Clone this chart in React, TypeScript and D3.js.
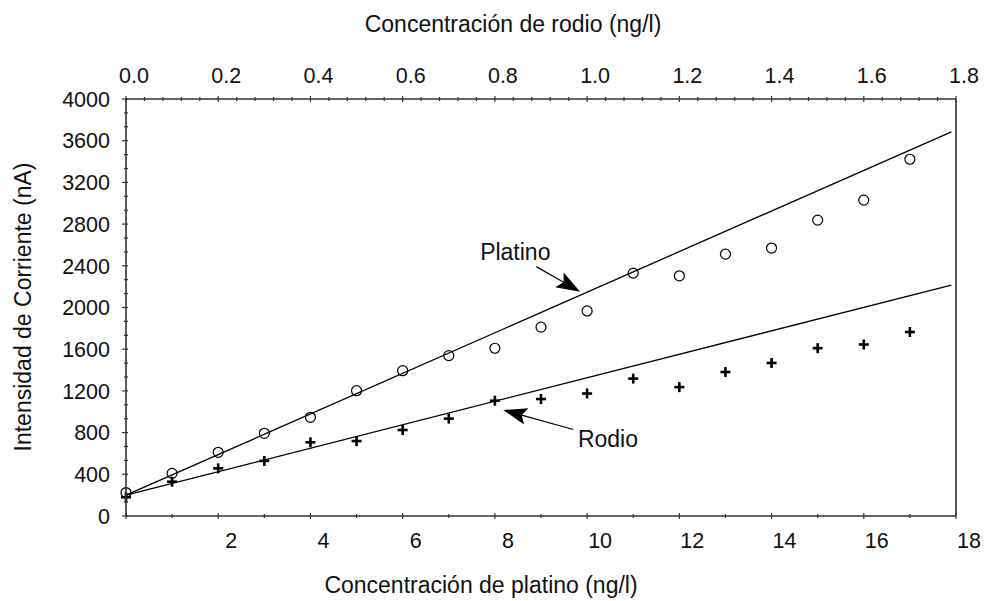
import React from "react";
import * as d3 from "d3";

// Concentraciones (ng/l) e intensidades medidas (nA)
const concPlatino = [0, 1, 2, 3, 4, 5, 6, 7, 8, 9, 10, 11, 12, 13, 14, 15, 16, 17];
const intensidadPlatino = [225, 409, 611, 793, 947, 1202, 1394, 1538, 1609, 1812, 1967, 2330, 2304, 2512, 2570, 2838, 3030, 3422];

const concRodio = [0, 0.1, 0.2, 0.3, 0.4, 0.5, 0.6, 0.7, 0.8, 0.9, 1.0, 1.1, 1.2, 1.3, 1.4, 1.5, 1.6, 1.7];
const intensidadRodio = [180, 329, 457, 528, 707, 719, 825, 934, 1106, 1122, 1175, 1318, 1236, 1381, 1468, 1610, 1645, 1765];

// Rectas de calibrado (extremos en ng/l de platino)
const extremosRecta = [0, 17.9];
const rectaPlatino = [200, 3685];
const rectaRodio = [200, 2215];

// Marcas de los ejes
const ticksInferiores = [2, 4, 6, 8, 10, 12, 14, 16, 18];
const ticksSuperiores = [0.0, 0.2, 0.4, 0.6, 0.8, 1.0, 1.2, 1.4, 1.6, 1.8];
const ticksY = [0, 400, 800, 1200, 1600, 2000, 2400, 2800, 3200, 3600, 4000];

const W = 984;
const H = 601;
const left = 126;
const right = 956;
const top = 99;
const bottom = 516;

const FONT = "'Liberation Sans', Arial, Helvetica, sans-serif";

export default function App() {
  const x = d3.scaleLinear().domain([0, 18]).range([left, right]);
  const xTop = d3.scaleLinear().domain([0, 1.8]).range([left, right]);
  const y = d3.scaleLinear().domain([0, 4000]).range([bottom, top]);

  const line = d3
    .line<[number, number]>()
    .x((d) => x(d[0]))
    .y((d) => y(d[1]));

  const fitPt: [number, number][] = extremosRecta.map((c, i) => [c, rectaPlatino[i]]);
  const fitRh: [number, number][] = extremosRecta.map((c, i) => [c, rectaRodio[i]]);

  // minor ticks
  const minorBottom = d3.range(0, 18.001, 1);
  const minorTop = d3.range(0, 1.8001, 0.04);
  const minorY = d3.range(0, 4000.1, 400 / 3);

  const axisColor = "#333";

  const arrow = (tail: [number, number], tip: [number, number], len = 24, half = 8.5) => {
    const [tx, ty] = tail;
    const [px, py] = tip;
    const dx = px - tx;
    const dy = py - ty;
    const L = Math.hypot(dx, dy);
    const ux = dx / L;
    const uy = dy / L;
    const bx = px - len * ux;
    const by = py - len * uy;
    const nx = -uy;
    const ny = ux;
    const notchX = px - len * 0.8 * ux;
    const notchY = py - len * 0.8 * uy;
    const pts = [
      [px, py],
      [bx + half * nx, by + half * ny],
      [notchX, notchY],
      [bx - half * nx, by - half * ny],
    ];
    return (
      <g>
        <line x1={tx} y1={ty} x2={notchX} y2={notchY} stroke="#000" strokeWidth={1.2} />
        <polygon points={pts.map((p) => p.join(",")).join(" ")} fill="#000" />
      </g>
    );
  };

  // annotation anchors in data coordinates
  const ptTail: [number, number] = [x(8.9), y(2392)];
  const ptTip: [number, number] = [x(9.85), y(2150)];
  const rhTail: [number, number] = [x(9.7), y(830)];
  const rhTip: [number, number] = [x(8.18), y(1017)];

  return (
    <svg
      width={W}
      height={H}
      style={{ position: "absolute", left: 0, top: 0, background: "#fff" }}
      fontFamily={FONT}
    >
      <rect width={W} height={H} fill="#fff" />

      {/* fit lines */}
      <path d={line(fitPt) || ""} fill="none" stroke="#000" strokeWidth={1.3} />
      <path d={line(fitRh) || ""} fill="none" stroke="#000" strokeWidth={1.3} />

      {/* platino points */}
      {concPlatino.map((c, i) => (
        <circle
          key={"pt" + i}
          cx={x(c)}
          cy={y(intensidadPlatino[i])}
          r={5}
          fill="none"
          stroke="#000"
          strokeWidth={1.2}
        />
      ))}

      {/* rodio points */}
      {concRodio.map((c, i) => {
        const cx = xTop(c);
        const cy = y(intensidadRodio[i]);
        return (
          <g key={"rh" + i} stroke="#000" strokeWidth={2.6}>
            <line x1={cx - 5} x2={cx + 5} y1={cy} y2={cy} />
            <line x1={cx} x2={cx} y1={cy - 5} y2={cy + 5} />
          </g>
        );
      })}

      {/* axes */}
      <line x1={left} x2={right} y1={bottom} y2={bottom} stroke={axisColor} strokeWidth={1.6} />
      <line x1={left} x2={right} y1={top} y2={top} stroke={axisColor} strokeWidth={1.4} />
      <line x1={left} x2={left} y1={top} y2={bottom} stroke={axisColor} strokeWidth={1.6} />
      <line x1={right} x2={right} y1={top} y2={bottom} stroke="#555" strokeWidth={2} />

      {/* bottom ticks */}
      {minorBottom.map((v) => {
        const major = Math.round(v) % 2 === 0;
        const s = major ? 3 : 2;
        return (
          <line key={"bt" + v} x1={x(v)} x2={x(v)} y1={bottom - s} y2={bottom + s} stroke={axisColor} strokeWidth={1.2} />
        );
      })}
      {ticksInferiores.map((v) => (
        <text key={"bl" + v} x={x(v) + 13} y={548} fontSize={21.5} textAnchor="middle" fill="#111">
          {v}
        </text>
      ))}

      {/* top ticks */}
      {minorTop.map((v, i) => {
        const major = i % 5 === 0;
        const s = major ? 3 : 2;
        return (
          <line key={"tt" + i} x1={xTop(v)} x2={xTop(v)} y1={top - s} y2={top + s} stroke={axisColor} strokeWidth={1.2} />
        );
      })}
      {ticksSuperiores.map((v) => (
        <text key={"tl" + v} x={xTop(v) + 8} y={83} fontSize={21.5} textAnchor="middle" fill="#111">
          {v.toFixed(1)}
        </text>
      ))}

      {/* y ticks */}
      {minorY.map((v, i) => {
        const major = i % 3 === 0;
        return (
          <line
            key={"yt" + i}
            x1={left - (major ? 4 : 2)}
            x2={left + 2}
            y1={y(v)}
            y2={y(v)}
            stroke={axisColor}
            strokeWidth={1.2}
          />
        );
      })}
      {ticksY.map((v) => (
        <text key={"yl" + v} x={110} y={y(v)} dy="0.36em" fontSize={21.5} textAnchor="end" fill="#111">
          {v}
        </text>
      ))}

      {/* titles */}
      <text x={513} y={32} fontSize={23} textAnchor="middle" fill="#111">
        Concentración de rodio (ng/l)
      </text>
      <text x={481} y={593} fontSize={23} textAnchor="middle" fill="#111">
        Concentración de platino (ng/l)
      </text>
      <text transform={`translate(31, 307) rotate(-90)`} fontSize={23} textAnchor="middle" fill="#111">
        Intensidad de Corriente (nA)
      </text>

      {/* annotations */}
      <text x={x(7.68)} y={y(2456)} fontSize={23} fill="#111">
        Platino
      </text>
      {arrow(ptTail, ptTip)}
      <text x={x(9.8)} y={y(662)} fontSize={23} fill="#111">
        Rodio
      </text>
      {arrow(rhTail, rhTip)}
    </svg>
  );
}
